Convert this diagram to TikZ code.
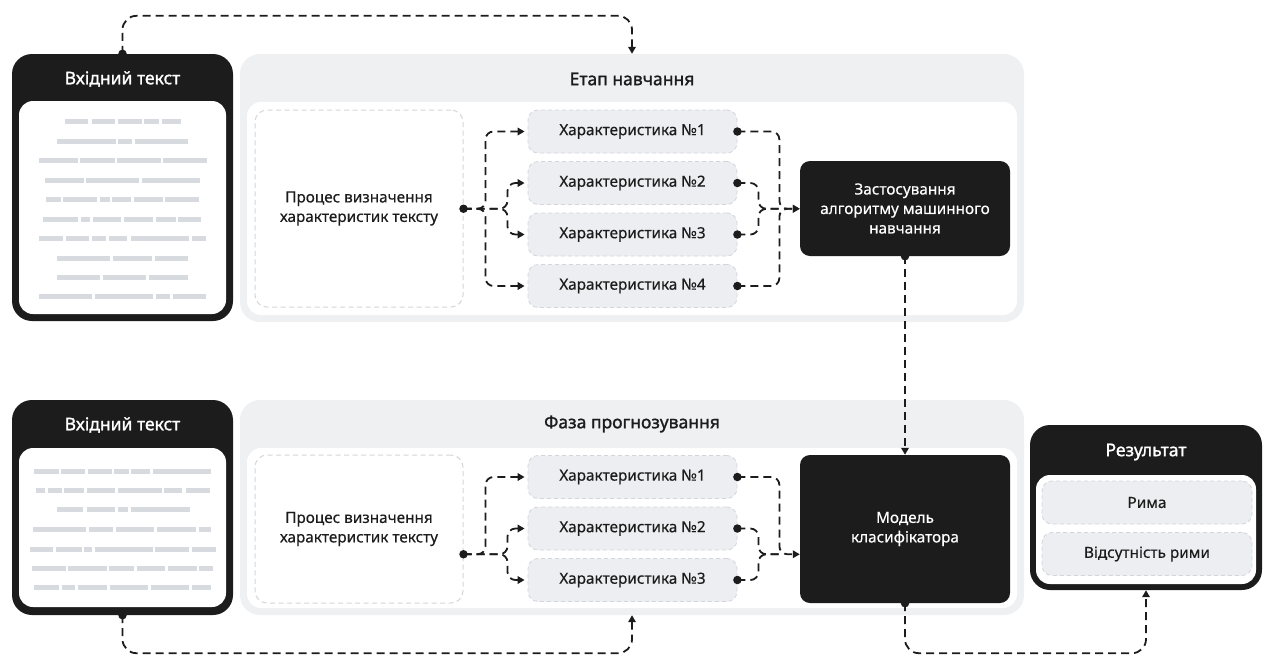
\documentclass[tikz,border=0pt]{standalone}
\usepackage{fontspec}
\setmainfont{Noto Sans}
\newfontfamily\lblfam[FakeBold=0.4]{Noto Sans}
\newfontfamily\medfont[FakeBold=1.3]{Noto Sans}
\usetikzlibrary{arrows.meta,calc}
\definecolor{ink}{HTML}{1C1C1C}
\definecolor{panel}{HTML}{EEF0F2}
\definecolor{featfill}{HTML}{ECEEF1}
\definecolor{featline}{HTML}{D2D6DB}
\definecolor{barcol}{HTML}{D7DBE0}
\definecolor{procline}{HTML}{D3D6DA}
\newcommand{\lblfont}{\fontsize{15.3}{19.5}\selectfont\lblfam}
\newcommand{\ttlfont}{\fontsize{17.5}{20}\selectfont\medfont}
\begin{document}
\begin{tikzpicture}[x=1pt,y=-1pt,
  card/.style={rectangle, rounded corners=20pt, fill=ink, inner sep=0pt},
  sheet/.style={rectangle, rounded corners=14pt, fill=white, inner sep=0pt},
  panelbox/.style={rectangle, rounded corners=20pt, fill=panel, inner sep=0pt},
  innerbox/.style={rectangle, rounded corners=14pt, fill=white, inner sep=0pt},
  procbox/.style={rectangle, rounded corners=12pt, draw=procline, line width=1pt, dash pattern=on 5pt off 3.5pt, fill=white, minimum width=208pt, align=center, font=\lblfont, text=ink, inner sep=0pt},
  feat/.style={rectangle, rounded corners=10pt, fill=featfill, draw=featline, line width=0.8pt, dash pattern=on 4pt off 3pt, minimum width=209pt, minimum height=43pt, font=\lblfont, text=ink, inner sep=0pt},
  blk/.style={rectangle, rounded corners=10pt, fill=ink, text=white, align=center, font=\lblfont, minimum width=210pt, inner sep=0pt},
  ptitle/.style={font=\ttlfont, text=ink, inner sep=0pt},
  ctitle/.style={font=\ttlfont, text=white, inner sep=0pt},
  conn/.style={draw=ink, line width=1.8pt, dash pattern=on 8pt off 5pt, rounded corners=8pt},
  bigconn/.style={conn, rounded corners=14pt},
  tip/.style={-{Triangle[length=7pt,width=7.5pt]}},
  dot/.style={circle, fill=ink, inner sep=0pt, minimum size=8.5pt}
]
\useasboundingbox (0,0) rectangle (1272,657);

% ---------- input cards ----------
\node[card, minimum width=221pt, minimum height=267pt] (in1) at (122.5,187.5) {};
\node[sheet, minimum width=207pt, minimum height=213pt] (sh1) at (122.5,207.5) {};
\node[ctitle] (t1) at (122.5,79) {Вхідний текст};

\node[card, minimum width=221pt, minimum height=215pt] (in2) at (122.5,507.5) {};
\node[sheet, minimum width=207pt, minimum height=159pt] (sh2) at (122.5,527.5) {};
\node[ctitle] (t2) at (122.5,425) {Вхідний текст};

% text bars
\foreach \y/\segs in {
  121/{65/88,92/115,118/142,144/159,162/181},
  141/{57/116,118/132,135/188},
  160/{39/78,80/115,117/161,163/207},
  180/{45/84,86/139,142/200},
  199/{46/61,63/97,100/110,112/131,134/163,165/199},
  219/{43/78,81/90,93/121,124/153,156/176,178/201},
  238/{39/63,66/89,92/106,109/127,131/189,192/206},
  258/{57/110,113/152,155/188},
  277/{57/100,103/146,149/188},
  296/{39/92,95/153,156/170,173/206},
  471/{34/59,61/85,88/112,114/129,131/150,153/211},
  490/{36/45,48/62,64/84,87/115,118/162,164/182,186/210},
  509/{57/83,87/115,118/128,131/190},
  529/{33/86,89/113,116/154,157/196,199/211},
  549/{30/53,56/82,84/92,95/153,155/189,192/216},
  568/{32/66,68/107,109/134,137/165,168/197,199/213},
  587/{34/59,62/75,78/107,110/148,151/189,192/211}}{
  \foreach \a/\b in \segs {
    \fill[barcol] (\a,\y-2.5) rectangle (\b,\y+2.5);
  }
}

% ---------- training stage ----------
\node[panelbox, minimum width=784pt, minimum height=268pt] (st1) at (632,188) {};
\node[innerbox, minimum width=770pt, minimum height=213pt] (ib1) at (632,208.5) {};
\node[ptitle] (pt1) at (632,79) {Етап навчання};
\node[procbox, minimum height=197pt] (proc1) at (359,208.5) {Процес визначення\\характеристик тексту};
\node[feat] (fa1) at (632.5,131.5) {Характеристика №1};
\node[feat] (fa2) at (632.5,183) {Характеристика №2};
\node[feat] (fa3) at (632.5,234.5) {Характеристика №3};
\node[feat] (fa4) at (632.5,286) {Характеристика №4};
\node[blk, minimum height=95pt] (ml) at (905,208.5) {Застосування\\алгоритму машинного\\навчання};

% ---------- prediction stage ----------
\node[panelbox, minimum width=784pt, minimum height=215pt] (st2) at (632,507.5) {};
\node[innerbox, minimum width=770pt, minimum height=160pt] (ib2) at (632,528) {};
\node[ptitle] (pt2) at (632,424) {Фаза прогнозування};
\node[procbox, minimum height=148pt] (proc2) at (359,529) {Процес визначення\\характеристик тексту};
\node[feat] (fb1) at (632.5,477) {Характеристика №1};
\node[feat] (fb2) at (632.5,528.5) {Характеристика №2};
\node[feat] (fb3) at (632.5,580) {Характеристика №3};
\node[blk, minimum height=148pt] (model) at (905,529) {Модель\\класифікатора};

% ---------- result ----------
\node[card, minimum width=232pt, minimum height=165pt] (res) at (1146,507.5) {};
\node[sheet, minimum width=220pt, minimum height=109pt] (rsh) at (1146,529.5) {};
\node[ctitle] (rt) at (1146,452) {Результат};
\node[feat, minimum width=210pt] (r1) at (1147,502.5) {Рима};
\node[feat, minimum width=210pt] (r2) at (1147,554) {Відсутність рими};

% ---------- helper coordinates ----------
\path ($(fa2.center)!0.5!(fa3.center)$) coordinate (mid1);
\path ($(fb2.center)!0.5!(fb3.center)$) coordinate (mid2);
\coordinate (src1) at (proc1.east |- mid1);
\coordinate (src2) at (proc2.east |- mid2);
\coordinate (tgt1) at (ml.west |- mid1);
\coordinate (tgt2) at (model.west |- mid2);
\coordinate (jn1) at ($(tgt1)+(-21,0)$);
\coordinate (jn2) at ($(tgt2)+(-21,0)$);

% ---------- connectors ----------
\draw[bigconn, tip] (in1.north) -- ++(0,-38) -| (st1.north);
\draw[bigconn, tip] (in2.south) -- ++(0,38) -| (st2.south);
\draw[bigconn, tip] (model.south) -- ++(0,50) -| (res.south);
\draw[conn, tip] (ml.south) -- (model.north);

% fan out (training)
\draw[conn, tip, shorten >=3pt] (src1) -- ++(22,0) |- (fa1.west);
\draw[conn, tip, shorten >=3pt] (src1) -- ++(22,0) |- (fa4.west);
\draw[conn, tip, shorten >=3pt] (src1) -- ++(44,0) |- (fa2.west);
\draw[conn, tip, shorten >=3pt] (src1) -- ++(44,0) |- (fa3.west);
% fan in (training)
\draw[conn, tip] (fa1.east) -- ++(42,0) |- (tgt1);
\draw[conn, tip] (fa4.east) -- ++(42,0) |- (tgt1);
\draw[conn] (fa2.east) -- ++(21,0) |- (jn1);
\draw[conn] (fa3.east) -- ++(21,0) |- (jn1);

% fan out (prediction)
\draw[conn, tip, shorten >=3pt] (src2) -- ++(22,0) |- (fb1.west);
\draw[conn, tip, shorten >=3pt] (src2) -- ++(44,0) |- (fb2.west);
\draw[conn, tip, shorten >=3pt] (src2) -- ++(44,0) |- (fb3.west);
% fan in (prediction)
\draw[conn, tip] (fb1.east) -- ++(42,0) |- (tgt2);
\draw[conn] (fb2.east) -- ++(21,0) |- (jn2);
\draw[conn] (fb3.east) -- ++(21,0) |- (jn2);

% ---------- dots ----------
\node[dot] (d1) at (in1.north) {};
\node[dot] (d2) at (in2.south) {};
\node[dot] (d3) at (src1) {};
\node[dot] (d4) at (src2) {};
\node[dot] (d5) at (ml.south) {};
\node[dot] (d6) at (model.south) {};
\node[dot] (e1) at (fa1.east) {};
\node[dot] (e2) at (fa2.east) {};
\node[dot] (e3) at (fa3.east) {};
\node[dot] (e4) at (fa4.east) {};
\node[dot] (e5) at (fb1.east) {};
\node[dot] (e6) at (fb2.east) {};
\node[dot] (e7) at (fb3.east) {};
\end{tikzpicture}
\end{document}
